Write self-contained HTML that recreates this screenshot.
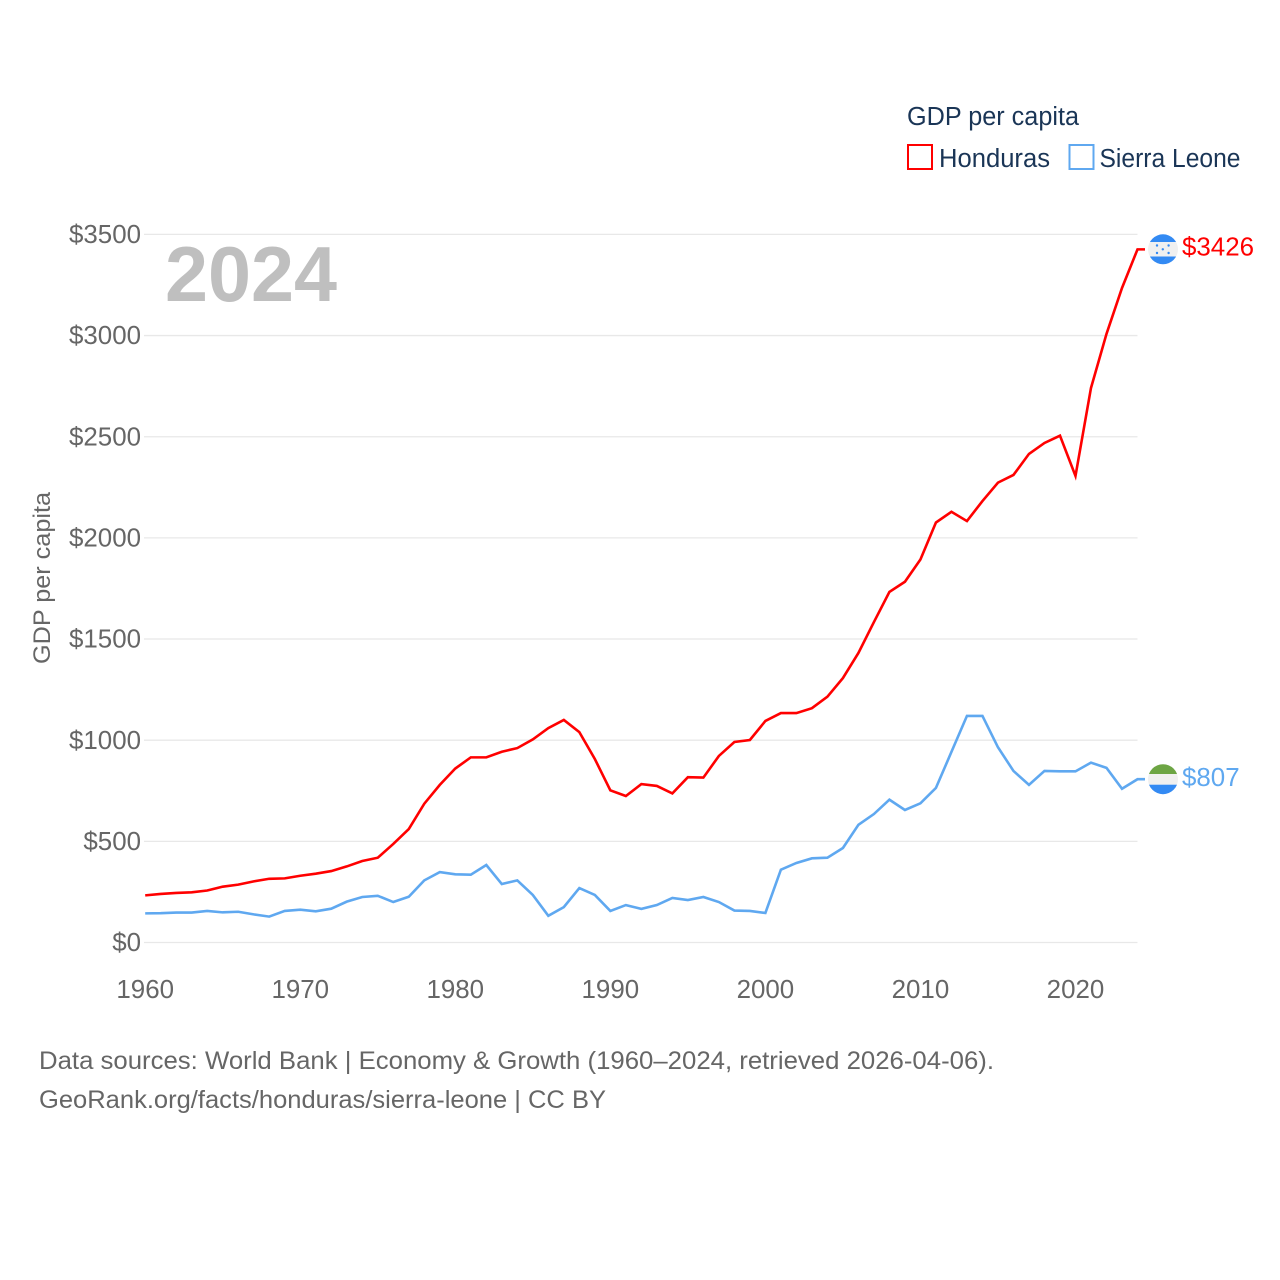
<!DOCTYPE html>
<html lang="en">
<head>
<meta charset="utf-8">
<title>GDP per capita: Honduras and Sierra Leone</title>
<style>
  html, body { margin: 0; padding: 0; background: #ffffff; }
  svg { display: block; font-family: "Liberation Sans", sans-serif; }
</style>
</head>
<body>
<svg id="chart" xmlns="http://www.w3.org/2000/svg" width="1280" height="1280" viewBox="0 0 1280 1280">
  <rect x="0" y="0" width="1280" height="1280" fill="#ffffff"/>
  <defs>
    <clipPath id="flag-clip-hn"><circle cx="1163" cy="249.3" r="15"/></clipPath>
    <clipPath id="flag-clip-sl"><circle cx="1163" cy="779.2" r="15"/></clipPath>
  </defs>

  <g id="grid"></g>
  <g id="y-ticks"></g>
  <g id="x-ticks"></g>

  <text x="165" y="301" font-size="78" font-weight="700" fill="#bfbfbf" textLength="172" lengthAdjust="spacingAndGlyphs">2024</text>

  <text transform="translate(50,664) rotate(-90)" font-size="24" fill="#666666" textLength="172" lengthAdjust="spacingAndGlyphs">GDP per capita</text>

  <g id="series"></g>

  <g clip-path="url(#flag-clip-hn)">
    <rect x="1147" y="234" width="32" height="8" fill="#338af3"/>
    <rect x="1147" y="242" width="32" height="14.5" fill="#f0f0f0"/>
    <rect x="1147" y="256.5" width="32" height="9" fill="#338af3"/>
    <circle cx="1157" cy="245.5" r="1.2" fill="#338af3"/>
    <circle cx="1168.6" cy="245.5" r="1.2" fill="#338af3"/>
    <circle cx="1162.8" cy="249.3" r="1.2" fill="#338af3"/>
    <circle cx="1157" cy="253" r="1.2" fill="#338af3"/>
    <circle cx="1168.6" cy="253" r="1.2" fill="#338af3"/>
  </g>
  <g clip-path="url(#flag-clip-sl)">
    <rect x="1147" y="763" width="32" height="11" fill="#6da544"/>
    <rect x="1147" y="774" width="32" height="10.7" fill="#f0f0f0"/>
    <rect x="1147" y="784.7" width="32" height="11" fill="#338af3"/>
  </g>

  <g id="end-labels"></g>

  <g>
    <text x="907" y="125" font-size="25.5" fill="#1a3556" textLength="172" lengthAdjust="spacingAndGlyphs">GDP per capita</text>
    <g>
      <rect x="908" y="145" width="24" height="24" fill="#ffffff" stroke="#ff0000" stroke-width="2"/>
      <text x="939" y="167" font-size="25.5" fill="#1a3556" textLength="111" lengthAdjust="spacingAndGlyphs">Honduras</text>
    </g>
    <g>
      <rect x="1069.5" y="145" width="24" height="24" fill="#ffffff" stroke="#5fa8f0" stroke-width="2"/>
      <text x="1099.5" y="167" font-size="25.5" fill="#1a3556" textLength="141" lengthAdjust="spacingAndGlyphs">Sierra Leone</text>
    </g>
  </g>

  <text x="39" y="1069" font-size="25" fill="#666666" textLength="955" lengthAdjust="spacingAndGlyphs">Data sources: World Bank | Economy &amp; Growth (1960–2024, retrieved 2026-04-06).</text>
  <text x="39" y="1108" font-size="25" fill="#666666" textLength="567" lengthAdjust="spacingAndGlyphs">GeoRank.org/facts/honduras/sierra-leone | CC BY</text>
</svg>

<script>
const startYear = 1960;
const yTickValues = [0, 500, 1000, 1500, 2000, 2500, 3000, 3500];
const xTickYears = [1960, 1970, 1980, 1990, 2000, 2010, 2020];
const hondurasValues = [
  233, 240, 245, 248, 257, 276, 286, 302, 315, 317,
  330, 340, 353, 376, 403, 419, 487, 561, 686, 779,
  860, 915, 915, 943, 961, 1004, 1060, 1100, 1040, 907,
  752, 724, 783, 774, 737, 817, 815, 922, 991, 1001,
  1095, 1134, 1134, 1158, 1215, 1307, 1431, 1584, 1733, 1783,
  1893, 2076, 2129, 2083, 2182, 2273, 2311, 2415, 2469, 2505,
  2306, 2741, 3008, 3235, 3426
];
const sierraLeoneValues = [
  144, 145, 148, 148, 156, 149, 152, 139, 128, 156,
  162, 154, 167, 202, 225, 231, 200, 226, 307, 348,
  337, 335, 383, 289, 307, 235, 132, 175, 269, 235,
  156, 185, 166, 185, 220, 210, 225, 200, 158, 156,
  146, 360, 393, 416, 419, 467, 582, 635, 706, 655,
  688, 764, 942, 1120, 1120, 965, 848, 779, 848, 846,
  846, 889, 863, 760, 807
];

const NS = 'http://www.w3.org/2000/svg';
const plotLeft = 145.2, plotRight = 1137.5, plotBase = 942.5, plotTop = 234.4;
const yearEnd = startYear + hondurasValues.length - 1;
function xScale(year) { return plotLeft + (year - startYear) * (plotRight - plotLeft) / (yearEnd - startYear); }
function yScale(value) { return plotBase - value * (plotBase - plotTop) / 3500; }

const gridGroup = document.getElementById('grid');
const yGroup = document.getElementById('y-ticks');
const xGroup = document.getElementById('x-ticks');
const seriesGroup = document.getElementById('series');
const labelGroup = document.getElementById('end-labels');

yTickValues.forEach(function (v) {
  const line = document.createElementNS(NS, 'line');
  
  
  line.setAttribute('x1', 144);
  line.setAttribute('x2', plotRight);
  line.setAttribute('y1', yScale(v));
  line.setAttribute('y2', yScale(v));
  line.setAttribute('stroke', '#e8e8e8');
  line.setAttribute('stroke-width', '1.3');
  gridGroup.appendChild(line);

  const t = document.createElementNS(NS, 'text');
  
  
  t.setAttribute('x', 141);
  t.setAttribute('y', yScale(v) + 8.6);
  t.setAttribute('text-anchor', 'end');
  t.setAttribute('font-size', '25.9');
  t.setAttribute('fill', '#666666');
  t.textContent = '$' + v;
  yGroup.appendChild(t);
});

xTickYears.forEach(function (yr) {
  const t = document.createElementNS(NS, 'text');
  
  
  t.setAttribute('x', xScale(yr));
  t.setAttribute('y', 998);
  t.setAttribute('text-anchor', 'middle');
  t.setAttribute('font-size', '25.9');
  t.setAttribute('fill', '#666666');
  t.textContent = String(yr);
  xGroup.appendChild(t);
});

function linePoints(values) {
  const pts = values.map(function (v, i) {
    return xScale(startYear + i).toFixed(2) + ',' + yScale(v).toFixed(2);
  });
  const last = values[values.length - 1];
  pts.push((plotRight + 7.5).toFixed(2) + ',' + yScale(last).toFixed(2));
  return pts.join(' ');
}

const hondurasLine = document.createElementNS(NS, 'polyline');


hondurasLine.setAttribute('points', linePoints(hondurasValues));
hondurasLine.setAttribute('fill', 'none');
hondurasLine.setAttribute('stroke', '#ff0000');
hondurasLine.setAttribute('stroke-width', '2.6');
hondurasLine.setAttribute('stroke-linejoin', 'miter');
seriesGroup.appendChild(hondurasLine);

const sierraLine = document.createElementNS(NS, 'polyline');


sierraLine.setAttribute('points', linePoints(sierraLeoneValues));
sierraLine.setAttribute('fill', 'none');
sierraLine.setAttribute('stroke', '#5fa8f0');
sierraLine.setAttribute('stroke-width', '2.6');
sierraLine.setAttribute('stroke-linejoin', 'miter');
seriesGroup.appendChild(sierraLine);

const hondurasLabel = document.createElementNS(NS, 'text');


hondurasLabel.setAttribute('x', 1182);
hondurasLabel.setAttribute('y', yScale(hondurasValues[hondurasValues.length - 1]) + 6);
hondurasLabel.setAttribute('font-size', '25.9');
hondurasLabel.setAttribute('fill', '#ff0000');
hondurasLabel.textContent = '$' + hondurasValues[hondurasValues.length - 1];
labelGroup.appendChild(hondurasLabel);

const sierraLabel = document.createElementNS(NS, 'text');


sierraLabel.setAttribute('x', 1182);
sierraLabel.setAttribute('y', yScale(sierraLeoneValues[sierraLeoneValues.length - 1]) + 6.8);
sierraLabel.setAttribute('font-size', '25.9');
sierraLabel.setAttribute('fill', '#5fa8f0');
sierraLabel.textContent = '$' + sierraLeoneValues[sierraLeoneValues.length - 1];
labelGroup.appendChild(sierraLabel);
</script>
</body>
</html>
